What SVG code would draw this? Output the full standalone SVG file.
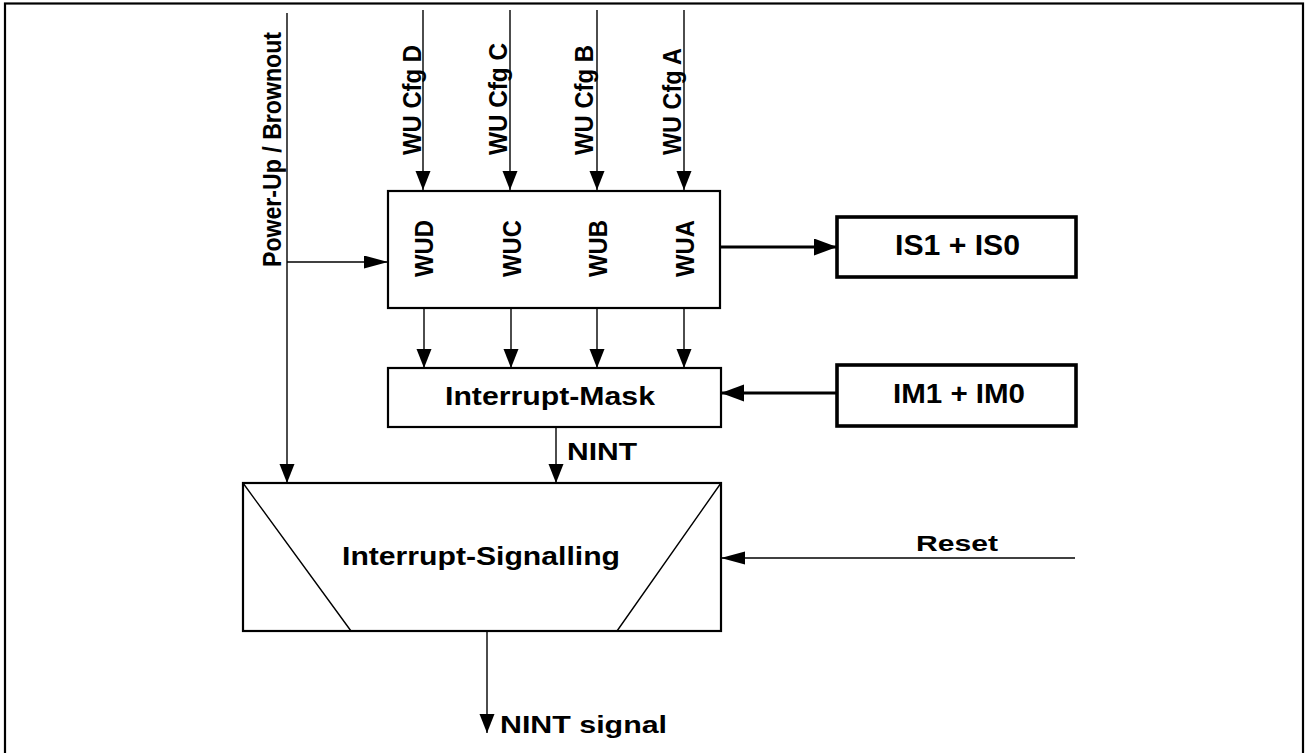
<svg xmlns="http://www.w3.org/2000/svg" width="1306" height="753" viewBox="0 0 1306 753">
<style>
.box{fill:#fff;stroke:#000;stroke-width:2.2}
.tbox{fill:#fff;stroke:#000;stroke-width:3.6}
.ln{fill:none;stroke:#000;stroke-width:1.4}
.thk{fill:none;stroke:#000;stroke-width:3.2}
.t{font-family:"Liberation Sans",Arial,sans-serif;font-weight:bold;fill:#000}
</style>
<defs>
<marker id="a" markerUnits="userSpaceOnUse" markerWidth="20" markerHeight="16" refX="19" refY="7.5" orient="auto"><path d="M0,0 L19,7.5 L0,15 z" fill="#000"/></marker>
<marker id="ah" markerUnits="userSpaceOnUse" markerWidth="25" markerHeight="14" refX="24" refY="6.5" orient="auto"><path d="M0,0 L24,6.5 L0,13 z" fill="#000"/></marker>
<marker id="at" markerUnits="userSpaceOnUse" markerWidth="24" markerHeight="18" refX="23" refY="8.5" orient="auto"><path d="M0,0 L23,8.5 L0,17 z" fill="#000"/></marker>
</defs>
<rect x="5" y="3.5" width="1298" height="760" fill="none" stroke="#000" stroke-width="2.2"/>

<g id="connectors">
<path class="ln" d="M287,13 V483" marker-end="url(#a)"/>
<path class="ln" d="M287,262 H388" marker-end="url(#ah)"/>
<path class="ln" d="M423,10 V190" marker-end="url(#a)"/>
<path class="ln" d="M510,10 V190" marker-end="url(#a)"/>
<path class="ln" d="M597,10 V190" marker-end="url(#a)"/>
<path class="ln" d="M684,10 V190" marker-end="url(#a)"/>
<path class="ln" d="M424,308 V368" marker-end="url(#a)"/>
<path class="ln" d="M511,308 V368" marker-end="url(#a)"/>
<path class="ln" d="M597,308 V368" marker-end="url(#a)"/>
<path class="ln" d="M684,308 V368" marker-end="url(#a)"/>
<path class="thk" d="M721,247 H837" marker-end="url(#at)"/>
<path class="thk" d="M837,393 H721" marker-end="url(#at)"/>
<path class="ln" d="M556,427 V483" marker-end="url(#a)"/>
<path class="ln" d="M1075,558 H721" marker-end="url(#ah)"/>
<path class="ln" d="M487,631 V733" marker-end="url(#a)"/>
<text class="t" x="567" y="460" font-size="24" textLength="70" lengthAdjust="spacingAndGlyphs">NINT</text>
<text class="t" x="500" y="733" font-size="23" textLength="167" lengthAdjust="spacingAndGlyphs">NINT signal</text>
<text class="t" x="916" y="551" font-size="22" textLength="82" lengthAdjust="spacingAndGlyphs">Reset</text>
<text class="t" font-size="25" textLength="235" lengthAdjust="spacingAndGlyphs" transform="translate(281,267) rotate(-90)">Power-Up / Brownout</text>
<text class="t" font-size="25.5" textLength="110" lengthAdjust="spacingAndGlyphs" transform="translate(420.5,155) rotate(-90)">WU Cfg D</text>
<text class="t" font-size="25.5" textLength="112" lengthAdjust="spacingAndGlyphs" transform="translate(507,155) rotate(-90)">WU Cfg C</text>
<text class="t" font-size="25.5" textLength="110" lengthAdjust="spacingAndGlyphs" transform="translate(593,155) rotate(-90)">WU Cfg B</text>
<text class="t" font-size="25.5" textLength="107" lengthAdjust="spacingAndGlyphs" transform="translate(681,155) rotate(-90)">WU Cfg A</text>
</g>

<g id="wu-block">
<rect class="box" x="388" y="191" width="332" height="117"/>
<text class="t" font-size="25.5" textLength="57" lengthAdjust="spacingAndGlyphs" transform="translate(433,277) rotate(-90)">WUD</text>
<text class="t" font-size="25.5" textLength="57" lengthAdjust="spacingAndGlyphs" transform="translate(521,277) rotate(-90)">WUC</text>
<text class="t" font-size="25.5" textLength="57" lengthAdjust="spacingAndGlyphs" transform="translate(607,277) rotate(-90)">WUB</text>
<text class="t" font-size="25.5" textLength="57" lengthAdjust="spacingAndGlyphs" transform="translate(694,277) rotate(-90)">WUA</text>
</g>

<g id="is-box">
<rect class="tbox" x="837" y="217" width="239" height="60"/>
<text class="t" x="895" y="255" font-size="29" textLength="125" lengthAdjust="spacingAndGlyphs">IS1 + IS0</text>
</g>

<g id="mask">
<rect class="box" x="388" y="368" width="333" height="59"/>
<text class="t" x="445" y="405" font-size="25" textLength="210" lengthAdjust="spacingAndGlyphs">Interrupt-Mask</text>
</g>

<g id="im-box">
<rect class="tbox" x="837" y="365" width="239" height="61"/>
<text class="t" x="893" y="403" font-size="28.5" textLength="132" lengthAdjust="spacingAndGlyphs">IM1 + IM0</text>
</g>

<g id="signalling">
<rect class="box" x="243" y="483" width="478" height="148"/>
<path class="ln" d="M243,483 L351,631 M721,483 L617,631"/>
<text class="t" x="342" y="565" font-size="25" textLength="278" lengthAdjust="spacingAndGlyphs">Interrupt-Signalling</text>
</g>
</svg>
